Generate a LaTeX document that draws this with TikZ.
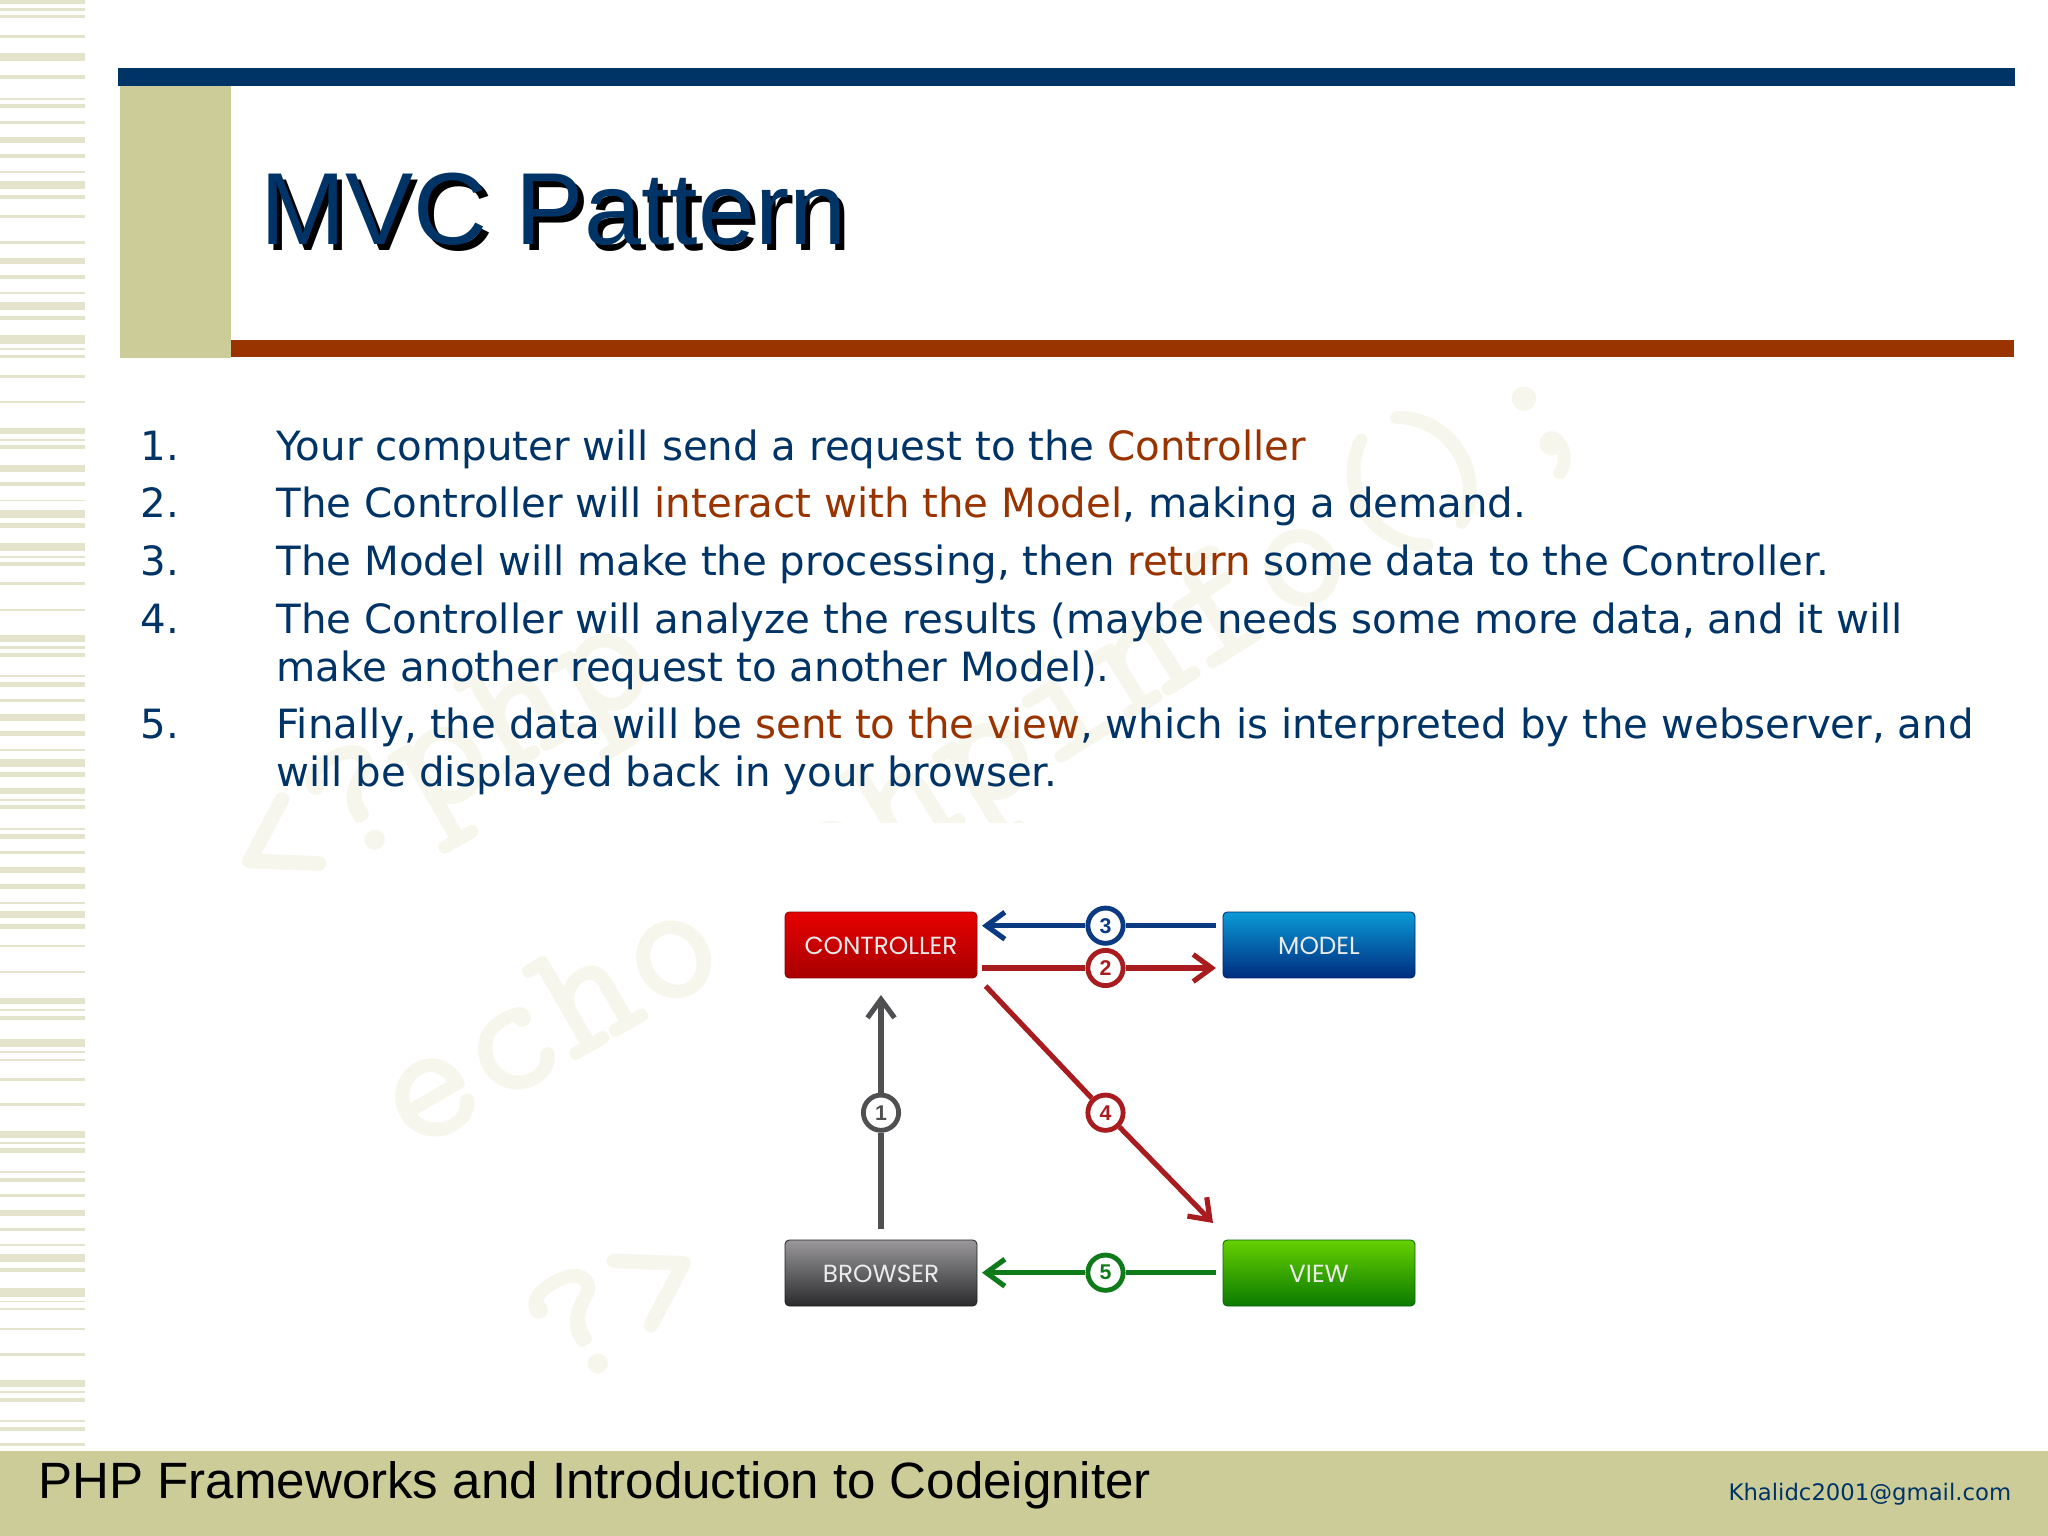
\documentclass[tikz,border=0pt]{standalone}
\usepackage{fontspec}
\usetikzlibrary{arrows.meta}
\setmainfont{DejaVu Sans}
\newfontfamily\arialfont{Liberation Sans}
\newfontfamily\boxfont{Poppins}
\definecolor{navyblue}{HTML}{003366}
\definecolor{rustred}{HTML}{993300}
\definecolor{sandtan}{HTML}{CCCC99}
\definecolor{stripetan}{HTML}{E3E4CB}
\definecolor{faintmark}{HTML}{F6F6ED}
\definecolor{ringblue}{HTML}{0B3A82}
\definecolor{ringred}{HTML}{A81C20}
\definecolor{ringgray}{HTML}{505052}
\definecolor{ringgreen}{HTML}{0F7A1A}
\definecolor{ctrltop}{HTML}{E60000}
\definecolor{ctrlbot}{HTML}{A80000}
\definecolor{modeltop}{HTML}{0A9AD6}
\definecolor{modelbot}{HTML}{002C7F}
\definecolor{browsertop}{HTML}{9A989A}
\definecolor{browserbot}{HTML}{2A2A2C}
\definecolor{viewtop}{HTML}{66D000}
\definecolor{viewbot}{HTML}{0A7A00}
\tikzset{
	bodyline/.style={anchor=base west,inner sep=0pt,text=navyblue,font=\fontsize{14.17}{14.2}\selectfont},
	markword/.style={anchor=base west,inner sep=0pt,text=faintmark,rotate=30,font=\ttfamily\bfseries\fontsize{62}{62}\selectfont},
	mvcbox/.style 2 args={rounded corners=1.5pt,minimum width=67.5pt,minimum height=23.2pt,inner sep=0pt,top color=#1,bottom color=#2,draw=#2!85!black,line width=0.3pt,text=white!92!black,text height=6.9pt,text depth=0pt,font=\boxfont\fontsize{8.7}{9}\selectfont},
	stepring/.style={circle,draw=#1,line width=1.7pt,fill=white,text=#1,minimum size=12.4pt,inner sep=0pt,font=\arialfont\bfseries\fontsize{7.5}{7.5}\selectfont},
	flowline/.style={draw=#1,line width=1.8pt},
	flowtip/.style={flowline=#1,-{Straight Barb[length=6.5pt,width=9.5pt]}},
}
\begin{document}
\begin{tikzpicture}[x=0.3515625pt,y=-0.3515625pt]
	\useasboundingbox[fill=white](0,0)rectangle(2048,1536);
	\foreach \a/\b in {0/4,8/11,15/18,35/38,53/61,75/79,98/100,104/108,121/124,137/143,154/158,171/173,181/189,195/199,215/218,241/244,258/264,275/279,292/294,302/310,316/320,335/344,348/350,355/358,375/378,401/403,428/434,439/441,445/449,465/472,482/486,500/501,510/518,523/528,543/551,556/558,562/566,582/585,609/611,635/642,646/649,653/657,675/677,682/687,699/702,714/721,731/736,749/751,759/767,772/777,788/794,799/801,805/809,828/830,834/839,851/854,867/873,884/889,902/904,911/918,924/929,945/947,971/973,998/1004,1009/1011,1016/1020,1039/1047,1051/1053,1059/1061,1078/1081,1103/1106,1131/1138,1142/1144,1148/1153,1171/1173,1178/1182,1194/1197,1210/1216,1228/1231,1244/1246,1254/1262,1268/1272,1288/1297,1301/1302,1308/1310,1328/1330,1353/1356,1380/1387,1391/1393,1398/1402,1420/1422,1427/1431,1443/1446}
		\fill[stripetan](0,\a)rectangle(85,\b);
	\node[markword]at(262,917){<?php};
	\node[markword,rotate=2]at(812,920){phpinfo();};
	\node[markword]at(412,1156){echo};
	\node[markword]at(565,1395){?>};
	\fill[white](770,823)rectangle(1460,1340);
	\fill[navyblue](118,68)rectangle(2015,86);
	\fill[sandtan](119.5,86)rectangle(230.5,358);
	\fill[rustred](230.5,340)rectangle(2014,357);
	\fill[sandtan](0,1451)rectangle(2048,1536);
	\node[anchor=base west,inner sep=0pt,font=\arialfont\fontsize{36}{36}\selectfont]at(265,250.5){MVC Pattern};
	\node[anchor=base west,inner sep=0pt,text=navyblue,font=\arialfont\fontsize{36}{36}\selectfont]at(259.5,245){MVC Pattern};
	\node[bodyline]at(140,460.5){1.};
	\node[bodyline]at(140,518){2.};
	\node[bodyline]at(140,575.5){3.};
	\node[bodyline]at(140,633){4.};
	\node[bodyline]at(140,738){5.};
	\node[bodyline]at(276,460.5){Your computer will send a request to the \textcolor{rustred}{Controller}};
	\node[bodyline]at(276,518){The Controller will \textcolor{rustred}{interact with the Model}, making a demand.};
	\node[bodyline]at(276,575.5){The Model will make the processing, then \textcolor{rustred}{return} some data to the Controller.};
	\node[bodyline]at(276,633){The Controller will analyze the results (maybe needs some more data, and it will};
	\node[bodyline]at(276,681){make another request to another Model).};
	\node[bodyline]at(276,738){Finally, the data will be \textcolor{rustred}{sent to the view}, which is interpreted by the webserver, and};
	\node[bodyline]at(276,786){will be displayed back in your browser.};
	\node[mvcbox={ctrltop}{ctrlbot}](controller)at(881,945){CONTROLLER};
	\node[mvcbox={modeltop}{modelbot}](model)at(1319,945){MODEL};
	\node[mvcbox={browsertop}{browserbot}](browser)at(881,1273){BROWSER};
	\node[mvcbox={viewtop}{viewbot}](view)at(1319,1273){VIEW};
	\node[stepring=ringgray](stepone)at(881,1112.7){1};
	\node[stepring=ringred](steptwo)at(1105.5,968){2};
	\node[stepring=ringblue](stepthree)at(1105.5,925.7){3};
	\node[stepring=ringred](stepfour)at(1105.5,1112.7){4};
	\node[stepring=ringgreen](stepfive)at(1105.5,1272.7){5};
	\coordinate(ctrlin)at(982,925.7);
	\coordinate(modelout)at(1216,925.7);
	\coordinate(ctrlout)at(982,968);
	\coordinate(modelin)at(1216,968);
	\coordinate(ctrlbelow)at(881,995);
	\coordinate(browserout)at(881,1229);
	\coordinate(ctrldiag)at(985.6,986);
	\coordinate(viewin)at(1213,1223);
	\coordinate(browserin)at(982,1272.7);
	\coordinate(viewout)at(1216,1272.7);
	\draw[flowline=ringblue](modelout)--(stepthree);
	\draw[flowtip=ringblue](stepthree)--(ctrlin);
	\draw[flowline=ringred](ctrlout)--(steptwo);
	\draw[flowtip=ringred](steptwo)--(modelin);
	\draw[flowline=ringgray](browserout)--(stepone);
	\draw[flowtip=ringgray](stepone)--(ctrlbelow);
	\draw[flowline=ringred](ctrldiag)--(stepfour);
	\draw[flowtip=ringred](stepfour)--(viewin);
	\draw[flowline=ringgreen](viewout)--(stepfive);
	\draw[flowtip=ringgreen](stepfive)--(browserin);
	\node[anchor=base west,inner sep=0pt,font=\arialfont\fontsize{17.95}{18}\selectfont]at(38,1498){PHP Frameworks and Introduction to Codeigniter};
	\node[anchor=base west,inner sep=0pt,text=navyblue,font=\fontsize{8}{8}\selectfont]at(1728,1500){Khalidc2001@gmail.com};
\end{tikzpicture}
\end{document}
